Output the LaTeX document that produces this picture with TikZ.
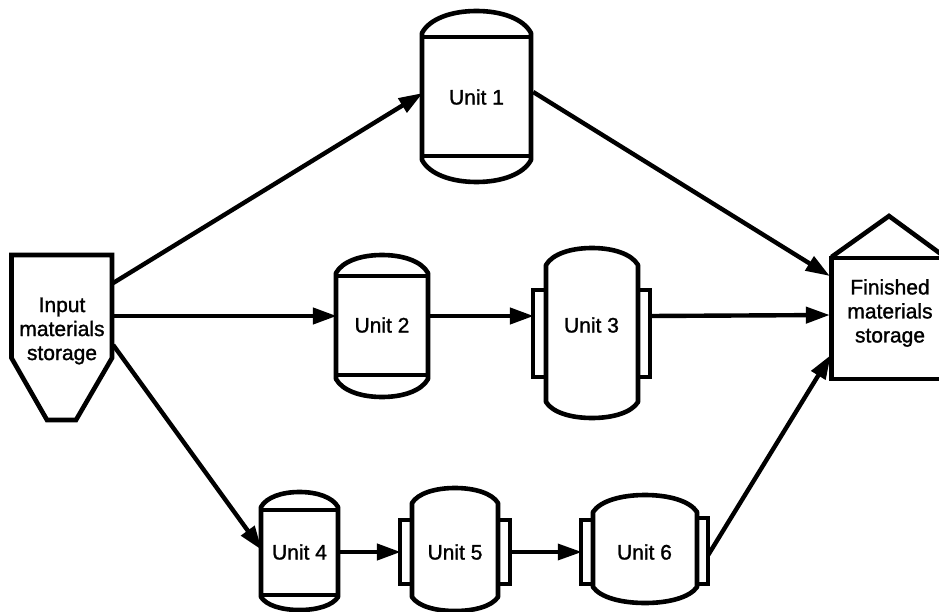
\documentclass[tikz,border=0pt]{standalone}
\usepackage{fontspec}
\setmainfont{Liberation Sans}[RawFeature={embolden=1.3}]
\usetikzlibrary{arrows.meta}
\tikzset{
  x=1pt,y=-1pt,
  ln/.style={line width=4.6pt,line join=miter,black},
  jacket/.style={line width=4.2pt,black},
  body/.style={inner sep=0pt,font=\fontsize{21}{24}\selectfont,align=center,text=black},
  flow/.style={line width=4.4pt,black,-{Triangle[length=24pt,width=16pt]}},
  thin flow/.style={flow,line width=3.4pt}
}
% #1 left, #2 right, #3 top of dome, #4 upper shoulder, #5 lower shoulder, #6 bottom of dome
\newcommand{\vesselshape}[6]{%
  \draw[ln,line cap=round,line join=round] (#1,#4)
     .. controls ({#1+(#2-#1)*0.07},{#3+(#4-#3)*0.35}) and ({#1+(#2-#1)*0.27},#3) .. ({(#1+#2)/2},#3)
     .. controls ({#2-(#2-#1)*0.27},#3) and ({#2-(#2-#1)*0.07},{#3+(#4-#3)*0.35}) .. (#2,#4) -- (#2,#5)
     .. controls ({#2-(#2-#1)*0.07},{#6-(#6-#5)*0.35}) and ({#2-(#2-#1)*0.27},#6) .. ({(#1+#2)/2},#6)
     .. controls ({#1+(#2-#1)*0.27},#6) and ({#1+(#2-#1)*0.07},{#6-(#6-#5)*0.35}) .. (#1,#5) -- cycle;
}
\begin{document}
\begin{tikzpicture}
\useasboundingbox (0,0) rectangle (939,612);
% Input hopper
\draw[ln] (11.5,255) -- (112,255) -- (112,358) -- (76,420) -- (47,420) -- (11.5,358) -- cycle;
\node[body,minimum width=100pt,minimum height=80pt] (input) at (62,331) {Input\\materials\\storage};
% Finished
\draw[ln] (945,258) -- (831.5,258) -- (831.5,379) -- (945,379);
\draw[ln] (831.5,257) -- (889,216) -- (945,257);
\node[body,minimum width=118pt,minimum height=80pt] (fin) at (890,313) {Finished\\materials\\storage};
% Unit 1
\vesselshape{422}{531}{11}{33}{160}{182}
\draw[ln] (422,37) -- (531,37) (422,156) -- (531,156);
\node[body,minimum width=109pt,minimum height=100pt] (u1) at (476.5,97) {Unit 1};
% Unit 2
\vesselshape{336}{428}{255}{273}{379}{397}
\draw[ln] (336,276) -- (428,276) (336,375) -- (428,375);
\node[body,minimum width=92pt,minimum height=80pt] (u2) at (382,325) {Unit 2};
% Unit 3
\draw[jacket] (533,290) rectangle (546,377) (638,290) rectangle (650,377);
\vesselshape{546}{638}{248}{265}{402}{418}
\node[body,minimum width=117pt,minimum height=80pt] (u3) at (591.5,325) {Unit 3};
% Unit 4
\vesselshape{261}{338}{492}{507}{597}{610}
\draw[ln] (261,510) -- (338,510) (261,595) -- (338,595);
\node[body,minimum width=77pt,minimum height=70pt] (u4) at (299.5,552) {Unit 4};
% Unit 5
\draw[jacket] (400,520) rectangle (412,584) (498,520) rectangle (510,584);
\vesselshape{412}{498}{488}{503}{597}{611}
\node[body,minimum width=110pt,minimum height=60pt] (u5) at (455,552) {Unit 5};
% Unit 6
\draw[jacket] (581,520) rectangle (593,584) (697,518) rectangle (708,584);
\vesselshape{593}{697}{495}{512}{587}{603}
\node[body,minimum width=127pt,minimum height=60pt] (u6) at (644.5,552) {Unit 6};
% Connectors
\draw[flow] ([xshift=1pt,yshift=48pt]input.east) -- ([xshift=1pt,yshift=4pt]u1.west);
\draw[flow] ([xshift=1pt,yshift=15pt]input.east) -- ([xshift=1pt,yshift=9pt]u2.west);
\draw[flow] ([xshift=1pt,yshift=-14pt]input.east) -- ([xshift=1pt,yshift=2pt]u4.west);
\draw[flow] ([xshift=2pt,yshift=5pt]u1.east) -- ([xshift=-1pt,yshift=37pt]fin.west);
\draw[flow] ([xshift=2pt,yshift=9pt]u2.east) -- ([xshift=1pt,yshift=9pt]u3.west);
\draw[flow] ([yshift=9pt]u3.east) -- ([xshift=-1pt,yshift=-2pt]fin.west);
\draw[flow] ([xshift=1pt]u4.east) -- ([xshift=1pt]u5.west);
\draw[thin flow] (u5.east) -- ([xshift=1pt]u6.west);
\draw[flow] ([yshift=-3pt]u6.east) -- ([xshift=0pt,yshift=-42pt]fin.west);
\end{tikzpicture}
\end{document}
